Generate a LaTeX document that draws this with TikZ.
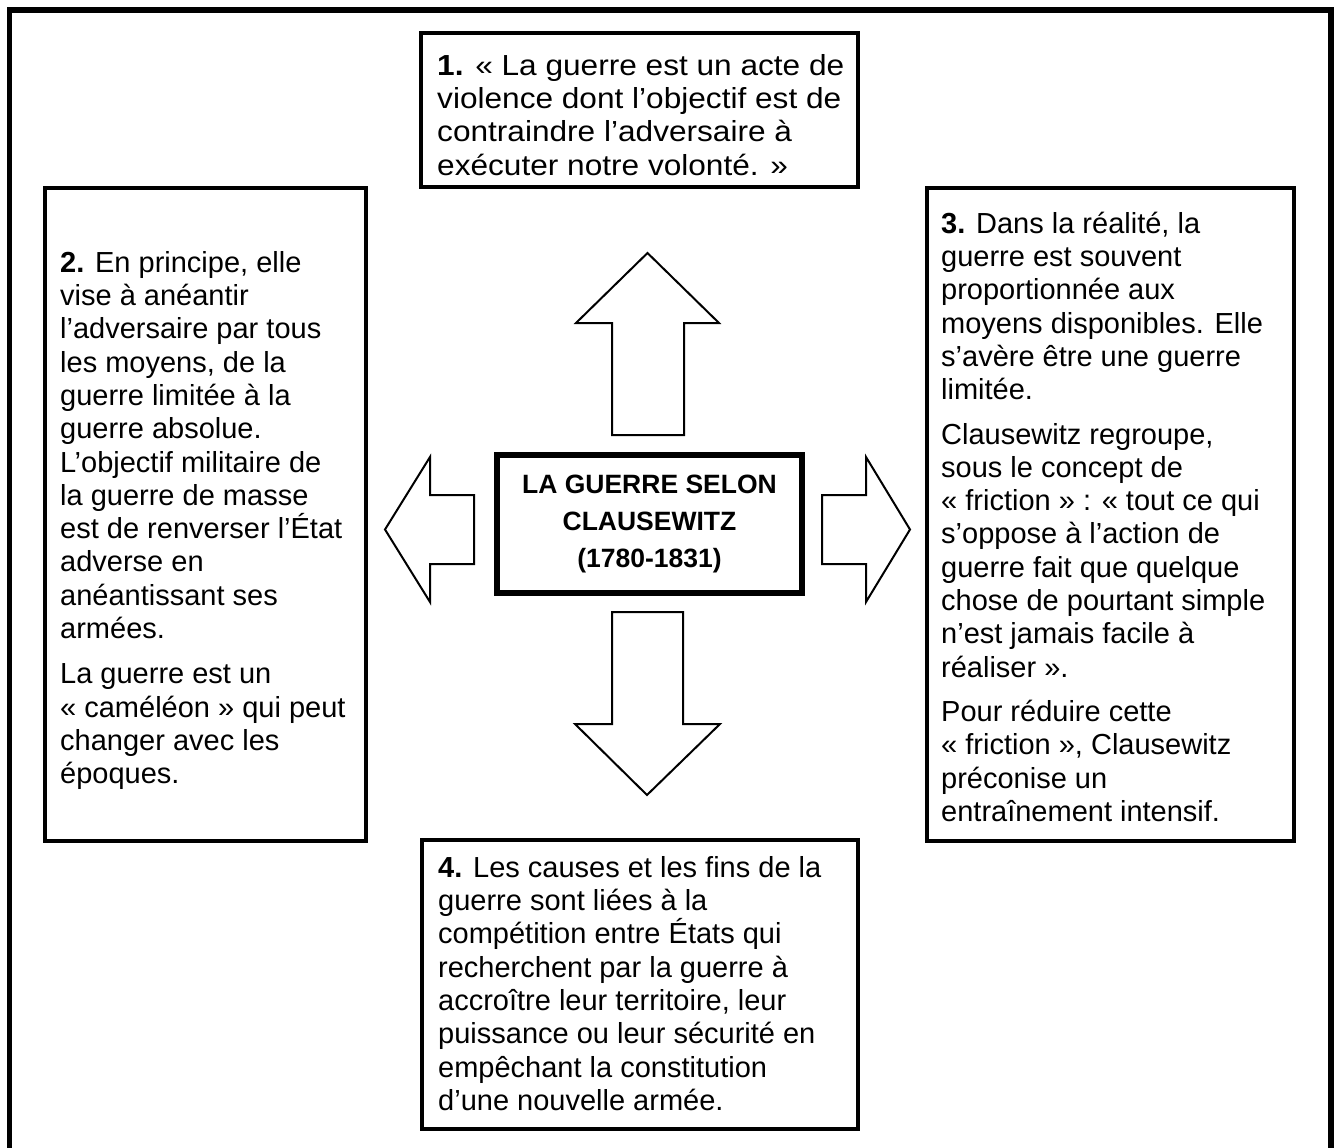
\documentclass[tikz,border=0pt]{standalone}
\usepackage{fontspec}
\setmainfont{Liberation Sans}
\newfontfamily\widefont[FakeStretch=1.09]{Liberation Sans}
\begin{document}
\begin{tikzpicture}[x=1pt,y=-1pt,
  frame/.style={line width=5.5pt},
  box/.style={line width=4pt},
  centerbox/.style={line width=5.5pt},
  blockarrow/.style={line width=2pt, line join=miter, fill=white},
  txt/.style={anchor=north west, inner sep=0pt, align=left, font=\fontsize{29}{33.3}\selectfont},
  widetxt/.style={txt, font=\widefont\fontsize{29}{33.3}\selectfont},
  ttl/.style={anchor=north, inner sep=0pt, align=center, font=\fontsize{26.5}{37}\selectfont\bfseries}]
\useasboundingbox (0,0) rectangle (1334,1148);
\clip (0,0) rectangle (1334,1148);
% outer frame (bottom edge lies outside the picture)
\draw[frame] (9.5,10) rectangle (1331,1170);
% boxes
\draw[box] (421,33) rectangle (858,187);
\draw[box] (45,188) rectangle (366,841);
\draw[box] (927,188) rectangle (1294,841);
\draw[box] (422,840) rectangle (858,1129);
\draw[centerbox] (497,455) rectangle (802,593);
% block arrows
\draw[blockarrow] (612,435) -- (612,323) -- (576,323) -- (647.5,253) -- (719,323) -- (684,323) -- (684,435) -- cycle;
\draw[blockarrow] (612,612) -- (683,612) -- (683,724) -- (720,724) -- (647,795) -- (575,724) -- (612,724) -- cycle;
\draw[blockarrow] (474,495) -- (430,495) -- (430,457) -- (385,529.5) -- (430,602) -- (430,564) -- (474,564) -- cycle;
\draw[blockarrow] (822,495) -- (866,495) -- (866,457) -- (910,529.5) -- (866,602) -- (866,564) -- (822,564) -- cycle;
% title
\node[ttl] (title) at (649.5,471) {\rule{0pt}{22pt}LA GUERRE SELON\\CLAUSEWITZ\\(1780-1831)};
% texts
\node[widetxt] (t1) at (437,51) {\rule{0pt}{24pt}\textbf{1.} « La guerre est un acte de\\
violence dont l’objectif est de\\
contraindre l’adversaire à\\
exécuter notre volonté. »};
\node[txt] (t2) at (60,248) {\rule{0pt}{24pt}\textbf{2.} En principe, elle\\
vise à anéantir\\
l’adversaire par tous\\
les moyens, de la\\
guerre limitée à la\\
guerre absolue.\\
L’objectif militaire de\\
la guerre de masse\\
est de renverser l’État\\
adverse en\\
anéantissant ses\\
armées.\\[12pt]
La guerre est un\\
« caméléon » qui peut\\
changer avec les\\
époques.};
\node[txt] (t3) at (941,209) {\rule{0pt}{24pt}\textbf{3.} Dans la réalité, la\\
guerre est souvent\\
proportionnée aux\\
moyens disponibles. Elle\\
s’avère être une guerre\\
limitée.\\[11pt]
Clausewitz regroupe,\\
sous le concept de\\
« friction » : « tout ce qui\\
s’oppose à l’action de\\
guerre fait que quelque\\
chose de pourtant simple\\
n’est jamais facile à\\
réaliser ».\\[11pt]
Pour réduire cette\\
« friction », Clausewitz\\
préconise un\\
entraînement intensif.};
\node[txt] (t4) at (438,853) {\rule{0pt}{24pt}\textbf{4.} Les causes et les fins de la\\
guerre sont liées à la\\
compétition entre États qui\\
recherchent par la guerre à\\
accroître leur territoire, leur\\
puissance ou leur sécurité en\\
empêchant la constitution\\
d’une nouvelle armée.};
\end{tikzpicture}
\end{document}
